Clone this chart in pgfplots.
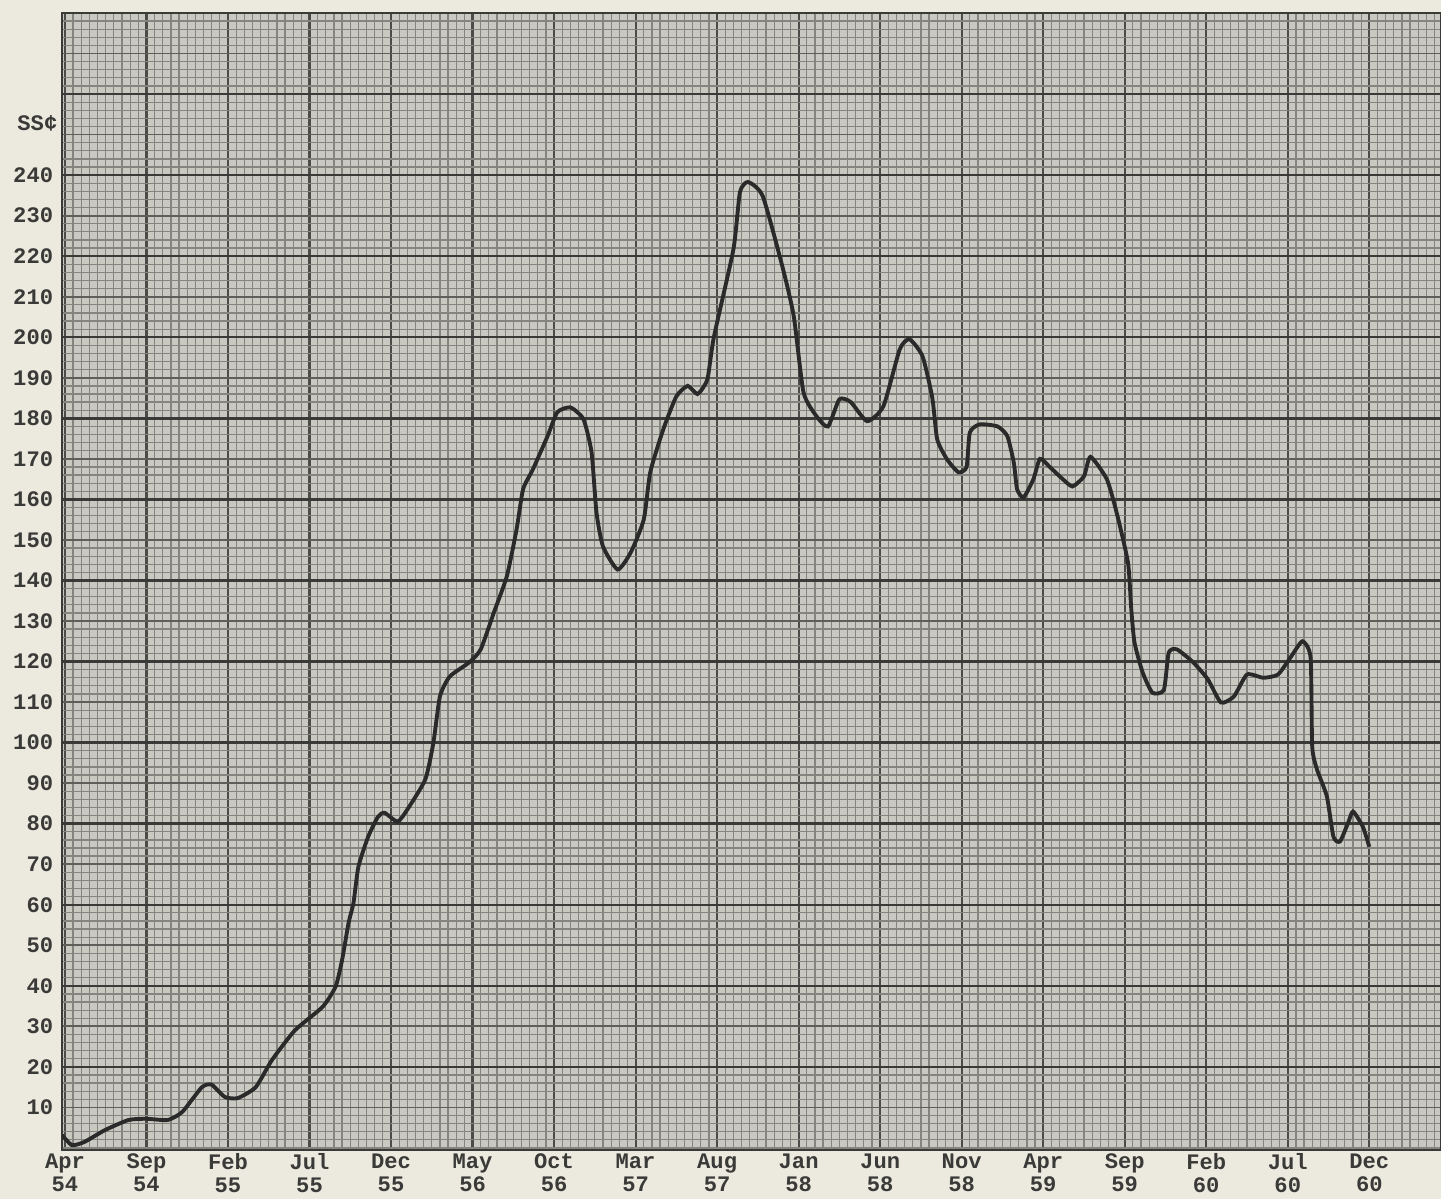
\documentclass[border=0pt]{standalone}
\usepackage{pgfplots}
\pgfplotsset{compat=1.18}
\usepackage{fontspec}
\setmonofont{Liberation Mono}
\definecolor{cream}{HTML}{ECE9DE}
\definecolor{paper}{HTML}{C9C9C1}
\definecolor{fineline}{HTML}{85857F}
\definecolor{midline}{HTML}{5E5E5A}
\definecolor{boldline}{HTML}{3A3A38}
\definecolor{ink}{HTML}{2A2A2A}
\definecolor{txt}{HTML}{3A3A38}
\begin{document}
\begin{tikzpicture}
\useasboundingbox (0,0) rectangle (14.41cm,11.99cm);
\fill[cream] (0,0) rectangle (14.41cm,11.99cm);
\begin{axis}[
  at={(0.62cm,0.49cm)}, anchor=south west,
  scale only axis, width=13.79cm, height=11.37cm,
  xmin=-0.18, xmax=84.4, ymin=-0.5, ymax=280,
  axis background/.style={fill=paper},
  axis line style={boldline, line width=0.8pt},
  xtick={0,5,...,80},
  xticklabels={{Apr\\54},{Sep\\54},{Feb\\55},{Jul\\55},{Dec\\55},{May\\56},{Oct\\56},{Mar\\57},{Aug\\57},{Jan\\58},{Jun\\58},{Nov\\58},{Apr\\59},{Sep\\59},{Feb\\60},{Jul\\60},{Dec\\60}},
  minor xtick={0,0.5,...,84.3},
  ytick={10,20,...,280},
  yticklabels={10,20,30,40,50,60,70,80,90,100,110,120,130,140,150,160,170,180,190,200,210,220,230,240,{},{},{},{}},
  minor ytick={0,2,...,280},
  extra y ticks={20,40,...,280},
  extra y tick labels={},
  extra y tick style={major grid style={boldline, line width=0.7pt}},
  grid=both,
  minor grid style={fineline, line width=0.35pt},
  major grid style={midline, line width=0.5pt},
  major x grid style={midline!80!black, line width=0.6pt},
  minor x grid style={fineline, line width=0.35pt},
  major tick length=0pt, minor tick length=0pt,
  tick label style={font=\ttfamily\bfseries\fontsize{6.3}{6.6}\selectfont, text=txt},
  xticklabel style={align=center, yshift=2.5pt},
  yticklabel style={xshift=1pt},
  clip=true,
]
\addplot[ink, line width=1.1pt, smooth, tension=0.35] coordinates {
(-0.18,3.2) (0.43,0.7) (1.2,1.5) (2.45,4.4) (3.9,6.9) (5.0,7.2) (6.3,6.9) (7.2,8.9)
(8.4,15) (9.0,15.6) (9.8,12.6) (10.6,12.3) (11.7,15) (12.7,21.7) (14.1,29) (15.8,34.8)
(16.6,39.8) (17.0,46.4) (17.4,55.6) (17.7,60.5) (18.0,69.4) (18.6,76.8) (19.2,81.7)
(19.6,82.7) (20.4,80.5) (21.0,83.5) (22.1,90.9) (22.6,100) (23.0,111.4) (23.6,116.3)
(24.8,119.8) (25.5,123) (26.3,132) (27.1,141) (27.7,152.6) (28.1,162.5) (28.7,167.4)
(29.6,175.6) (30.2,181.5) (31.0,182.7) (31.8,179.8) (32.3,171.6) (32.6,156.8) (33.0,148.4)
(33.9,142.7) (34.7,146.9) (35.5,155) (35.9,166.7) (36.7,177.3) (37.5,185.4) (38.2,188)
(38.8,186) (39.4,189.6) (39.8,200) (41.0,221.7) (41.4,235.8) (41.9,238.3) (42.8,234.8)
(44.0,217.5) (44.7,205.2) (45.3,186.4) (46.1,180.5) (46.8,178) (47.5,184.7) (48.2,184)
(49.2,179.3) (50.2,183) (51.2,197) (51.8,199.5) (52.6,195.3) (53.2,185) (53.5,174.8)
(54.1,169.9) (54.8,166.7) (55.3,168) (55.5,176.5) (56.1,178.5) (57.2,178) (57.8,175.6)
(58.2,169) (58.4,162.5) (58.8,160.5) (59.4,165) (59.8,170) (60.4,168) (61.2,165)
(61.8,163.2) (62.5,165.7) (62.9,170.5) (63.9,165) (64.5,156.8) (65.2,144.4) (65.4,133)
(65.6,124.7) (66.1,117.3) (66.7,112.3) (67.4,113) (67.7,122.2) (68.2,123) (69.2,119.8)
(70.1,115.6) (70.9,109.9) (71.7,111.4) (72.5,116.8) (73.5,116) (74.4,116.8) (75.2,121.2)
(75.9,125) (76.4,121) (76.5,99) (76.8,93.3) (77.4,86.7) (77.8,76.8) (78.2,75.6)
(78.7,80.2) (79.0,83) (79.6,79.3) (80.0,74.3)
};
\end{axis}
\node[anchor=east, font=\ttfamily\bfseries\fontsize{6.3}{6.6}\selectfont, text=txt, inner sep=0pt] at (0.58cm,10.76cm) {SS¢};
\end{tikzpicture}
\end{document}
